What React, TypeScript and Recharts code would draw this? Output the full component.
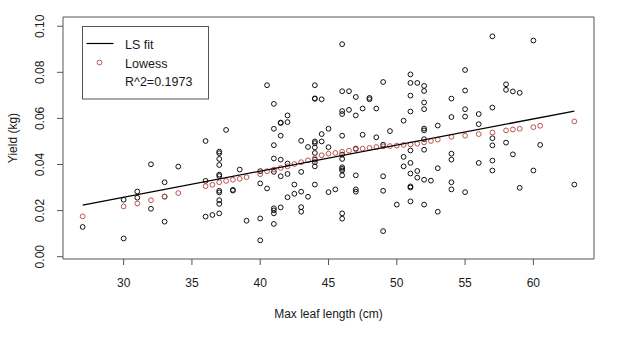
import { ScatterChart, Scatter, XAxis, YAxis, ReferenceArea } from 'recharts';

const leafLength = [
  27,
  30, 30,
  31, 31,
  32, 32,
  33, 33, 33,
  34,
  36, 36, 36,
  36.5,
  37, 37, 37, 37, 37, 37, 37, 37, 37, 37, 37,
  37.5,
  38, 38,
  38.5,
  39,
  40, 40, 40, 40,
  40.5, 40.5,
  41, 41, 41, 41, 41, 41, 41, 41, 41,
  41.5, 41.5, 41.5, 41.5, 41.5, 41.5,
  42, 42, 42, 42, 42,
  42.5, 42.5,
  43, 43, 43, 43, 43,
  43.5, 43.5,
  44, 44, 44, 44, 44, 44, 44, 44, 44, 44, 44,
  44.5, 44.5, 44.5,
  45, 45, 45,
  45.5,
  46, 46, 46, 46, 46, 46, 46, 46, 46, 46, 46, 46, 46,
  46.5, 46.5,
  47, 47, 47, 47, 47, 47,
  47.5, 47.5,
  48, 48,
  48.5, 48.5,
  49, 49, 49, 49, 49,
  49.5,
  50,
  50.5, 50.5, 50.5,
  51, 51, 51, 51, 51, 51, 51, 51, 51, 51,
  51.5, 51.5, 51.5,
  52, 52, 52, 52, 52, 52, 52, 52, 52, 52,
  52.5,
  53, 53, 53,
  54, 54, 54, 54, 54, 54,
  55, 55, 55, 55, 55,
  56, 56, 56,
  57, 57, 57, 57, 57, 57,
  58, 58, 58,
  58.5, 58.5,
  59, 59,
  60, 60,
  60.5,
  63,
];

const yieldKg = [
  0.0129,
  0.0247, 0.0079,
  0.0283, 0.0256,
  0.0401, 0.0208,
  0.0323, 0.0261, 0.0152,
  0.0391,
  0.0502, 0.0329, 0.0174,
  0.0181,
  0.0456, 0.0449, 0.0424, 0.0398, 0.0356, 0.035, 0.0286, 0.0279, 0.0245, 0.0229, 0.0188,
  0.055,
  0.0287, 0.029,
  0.0378,
  0.0156,
  0.0371, 0.0318, 0.0166, 0.0071,
  0.0744, 0.0296,
  0.0663, 0.0555, 0.0484, 0.0426, 0.0368, 0.021, 0.0201, 0.0188, 0.0142,
  0.0582, 0.058, 0.0525, 0.0421, 0.0349, 0.0214,
  0.0613, 0.0584, 0.0404, 0.0359, 0.0258,
  0.0313, 0.0273,
  0.0503, 0.0368, 0.0282, 0.0215, 0.0195,
  0.0476, 0.026,
  0.0744, 0.0685, 0.0687, 0.05, 0.0493, 0.0474, 0.045, 0.0421, 0.041, 0.0392, 0.0313,
  0.0683, 0.0532, 0.05,
  0.0555, 0.0475, 0.028,
  0.0292,
  0.0922, 0.0718, 0.0632, 0.0619, 0.0525, 0.0443, 0.0424, 0.0388, 0.0381, 0.0374, 0.0353, 0.0188, 0.0165,
  0.0718, 0.0637,
  0.0693, 0.0613, 0.0469, 0.0353, 0.0292, 0.0282,
  0.0643, 0.0529,
  0.0689, 0.0683,
  0.0643, 0.0518,
  0.0758, 0.0486, 0.0349, 0.0286, 0.0111,
  0.0545,
  0.0226,
  0.059, 0.0433, 0.0392,
  0.0791, 0.0754, 0.0699, 0.063, 0.0461, 0.0407, 0.0361, 0.0305, 0.03, 0.024,
  0.0754, 0.0372, 0.0343,
  0.0741, 0.0719, 0.0669, 0.064, 0.0556, 0.0548, 0.051, 0.0464, 0.0334, 0.0226,
  0.033,
  0.0569, 0.0384, 0.0195,
  0.0686, 0.0606, 0.0447, 0.0421, 0.0323, 0.0292,
  0.081, 0.0721, 0.064, 0.0608, 0.028,
  0.0619, 0.0575, 0.0407,
  0.0956, 0.0647, 0.0514, 0.0483, 0.0417, 0.0374,
  0.0748, 0.0724, 0.0495,
  0.0717, 0.0444,
  0.0711, 0.0299,
  0.0938, 0.0374,
  0.0485,
  0.0313,
];

// lowess fitted values, one per distinct leaf length
const lowessX = [
  27, 30, 31, 32, 33, 34, 36, 36.5, 37, 37.5, 38, 38.5, 39, 40, 40.5, 41, 41.5, 42, 42.5, 43,
  43.5, 44, 44.5, 45, 45.5, 46, 46.5, 47, 47.5, 48, 48.5, 49, 49.5, 50, 50.5, 51, 51.5, 52,
  52.5, 53, 54, 55, 56, 57, 58, 58.5, 59, 60, 60.5, 63,
];
const lowessY = [
  0.0175, 0.0218, 0.0231, 0.0245, 0.026, 0.0276, 0.0306, 0.0312, 0.0323, 0.0329, 0.0334, 0.0338,
  0.0345, 0.0358, 0.0371, 0.0378, 0.0385, 0.0392, 0.0402, 0.041, 0.0418, 0.0427, 0.044, 0.0447,
  0.045, 0.0455, 0.046, 0.0466, 0.0469, 0.0472, 0.0476, 0.0479, 0.048, 0.0482, 0.0485, 0.0487,
  0.049, 0.0496, 0.0502, 0.0508, 0.052, 0.0525, 0.0532, 0.0539, 0.0548, 0.0552, 0.0555, 0.0562,
  0.0568, 0.0587,
];

// least squares line, ends at the data range
const lsFitX = [27, 63];
const lsFitY = [0.0224, 0.0632];

const xTicks = [30, 35, 40, 45, 50, 55, 60];
const yTicks = [0, 0.02, 0.04, 0.06, 0.08, 0.1];

const points = leafLength.map((x, i) => ({ x, y: yieldKg[i] }));
const lowess = lowessX.map((x, i) => ({ x, y: lowessY[i] }));
const lsFit = lsFitX.map((x, i) => ({ x, y: lsFitY[i] }));

const FONT = '"Liberation Sans", Arial, sans-serif';
const TEXT = '#1a1a1a';
const FRAME = '#555';
const RED = '#c0504d';
const X_DOMAIN: [number, number] = [25.56, 64.44];
const Y_DOMAIN: [number, number] = [-0.001, 0.104];

const openCircle = (color: string) => (props: any) => (
  <circle cx={props.cx} cy={props.cy} r={2.4} fill="none" stroke={color} strokeWidth={1} />
);

const YTick = ({ y, payload }: any) => (
  <text
    x={40}
    y={y}
    dy="0.35em"
    transform={`rotate(-90 40 ${y})`}
    textAnchor="middle"
    fontSize={12}
    fontFamily={FONT}
    fill={TEXT}
  >
    {payload.value.toFixed(2)}
  </text>
);

export default function App() {
  return (
    <div style={{ position: 'absolute', left: 0, top: 0, width: 628, height: 338, background: '#fff' }}>
      <ScatterChart width={628} height={338} margin={{ top: 17, right: 34, bottom: 0, left: 0 }}>
        <XAxis
          type="number"
          dataKey="x"
          domain={X_DOMAIN}
          allowDataOverflow
          ticks={xTicks}
          axisLine={false}
          tickLine={{ stroke: FRAME }}
          tickSize={6}
          tickMargin={13}
          height={79}
          tick={{ fontSize: 12, fontFamily: FONT, fill: TEXT }}
        />
        <YAxis
          type="number"
          dataKey="y"
          domain={Y_DOMAIN}
          allowDataOverflow
          ticks={yTicks}
          axisLine={false}
          tickLine={{ stroke: FRAME }}
          tickSize={6}
          width={63}
          tick={<YTick />}
        />
        <ReferenceArea
          x1={X_DOMAIN[0]}
          x2={X_DOMAIN[1]}
          y1={Y_DOMAIN[0]}
          y2={Y_DOMAIN[1]}
          fill="none"
          stroke={FRAME}
          strokeWidth={1}
        />
        <Scatter data={points} shape={openCircle('#111')} isAnimationActive={false} />
        <Scatter data={lowess} shape={openCircle(RED)} isAnimationActive={false} />
        <Scatter
          data={lsFit}
          line={{ stroke: '#000', strokeWidth: 1.3 }}
          shape={() => <g />}
          isAnimationActive={false}
        />
      </ScatterChart>
      <svg
        width={628}
        height={338}
        style={{ position: 'absolute', left: 0, top: 0, pointerEvents: 'none' }}
        fontFamily={FONT}
        fontSize={12}
        fill={TEXT}
      >
        <text x={328.5} y={317.5} textAnchor="middle">Max leaf length (cm)</text>
        <text x={17} y={138} textAnchor="middle" transform="rotate(-90 17 138)">Yield (kg)</text>
        <rect x={82.5} y={26.5} width={126} height={72.5} fill="#fff" stroke={FRAME} strokeWidth={1} />
        <line x1={86.5} x2={113.5} y1={43.5} y2={43.5} stroke="#000" strokeWidth={1.2} />
        <circle cx={99.5} cy={62.5} r={2.4} fill="none" stroke={RED} strokeWidth={1} />
        <text x={125} y={48.5} fontSize={12.5}>LS fit</text>
        <text x={125} y={67.5} fontSize={12.5}>Lowess</text>
        <text x={125} y={85.5} fontSize={12.5}>R^2=0.1973</text>
      </svg>
    </div>
  );
}
